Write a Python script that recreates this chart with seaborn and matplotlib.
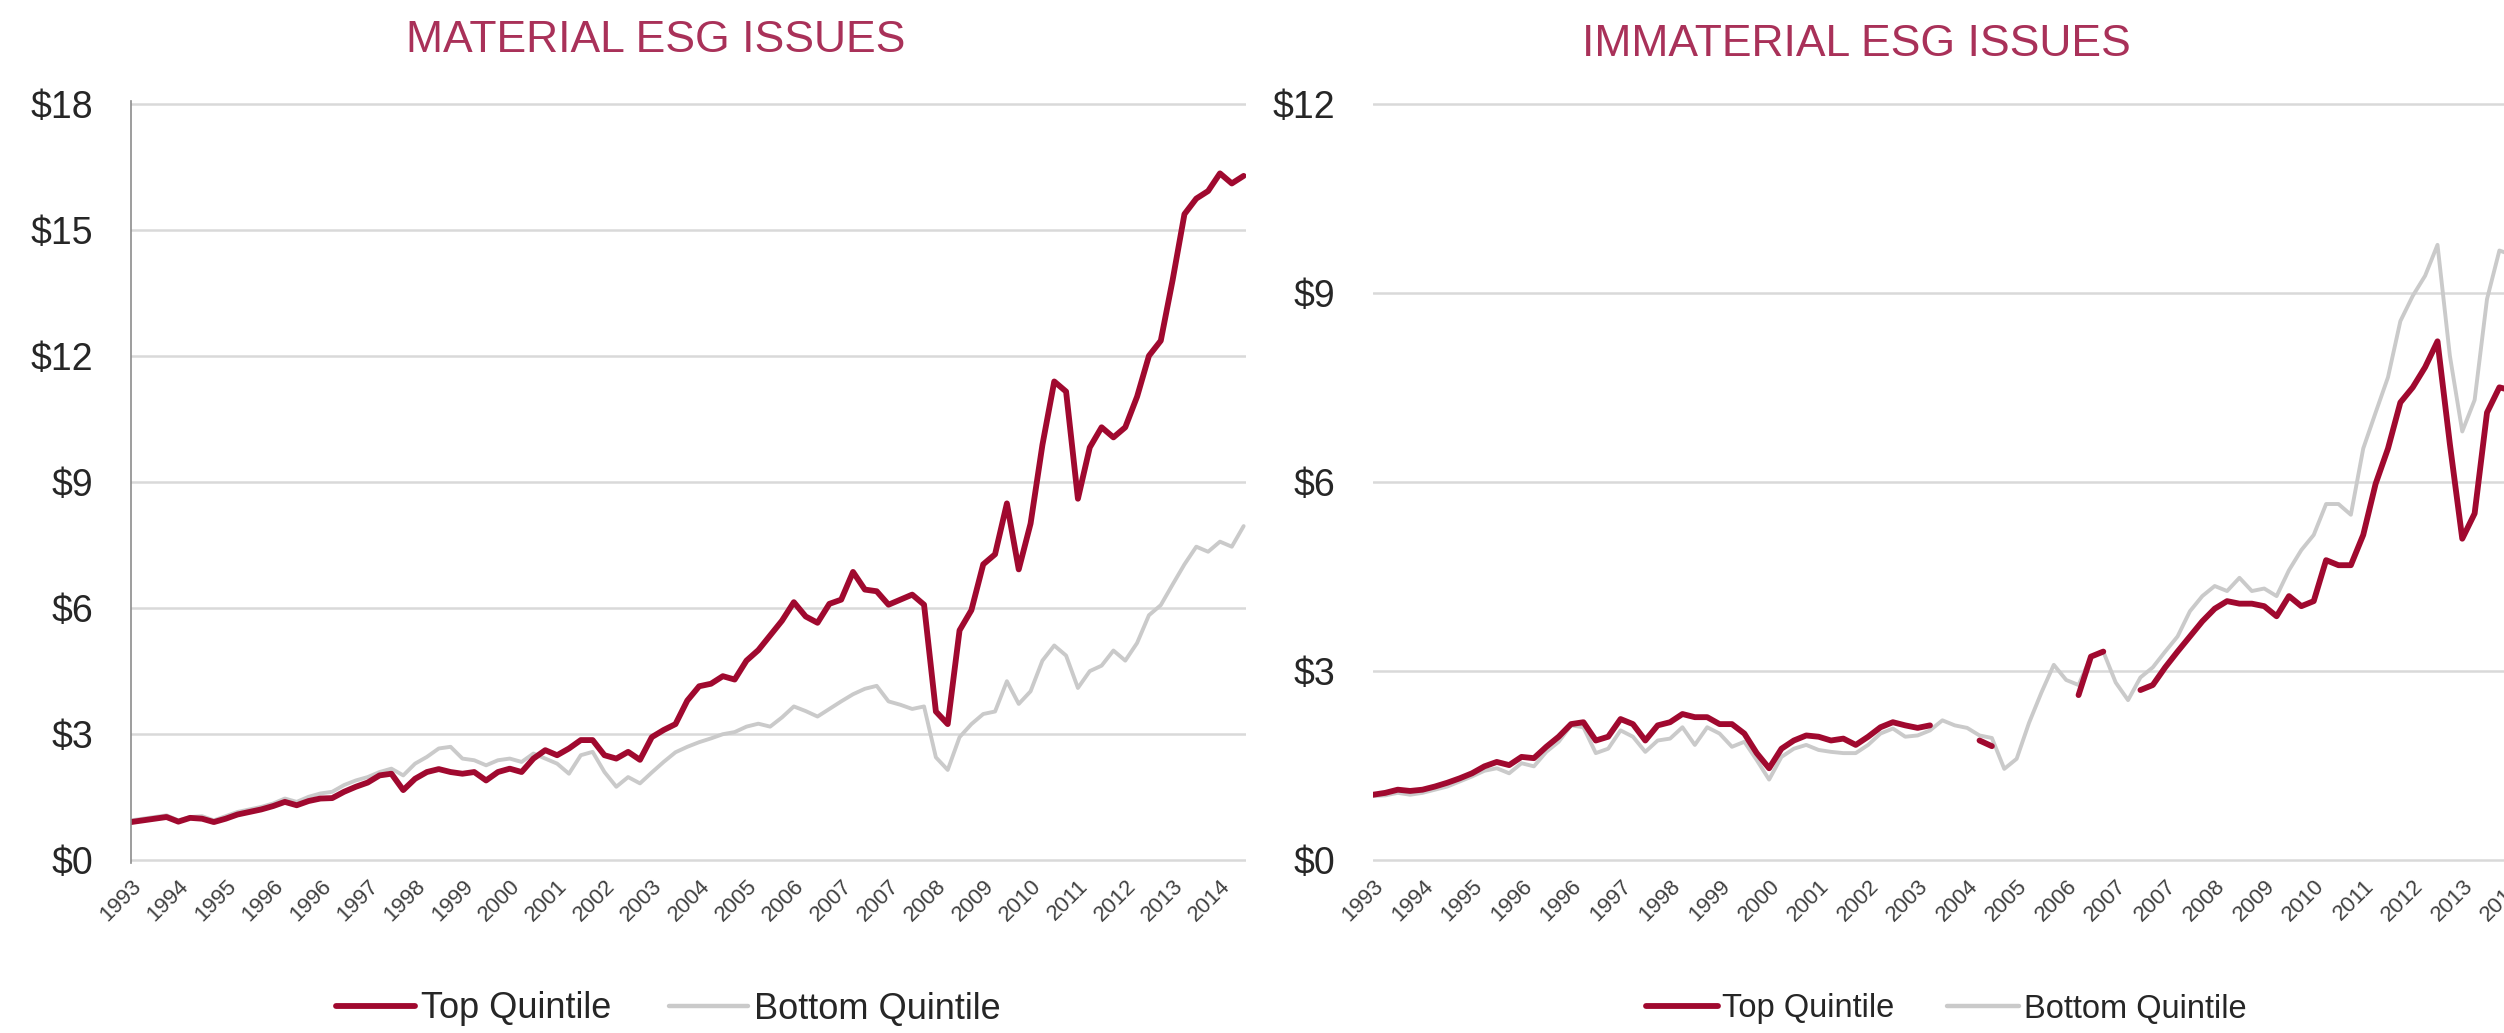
import numpy as np
import pandas as pd
import matplotlib
matplotlib.use('Agg')
import matplotlib.pyplot as plt
import seaborn as sns
from matplotlib.lines import Line2D

sns.set_style('white')
plt.rcParams['font.family'] = ['Liberation Sans', 'DejaVu Sans']

# tick labels (one label per ~11 months, as in the source chart)
year_labels = ['1993', '1994', '1995', '1996', '1996', '1997', '1998', '1999',
               '2000', '2001', '2002', '2003', '2004', '2005', '2006', '2007',
               '2007', '2008', '2009', '2010', '2011', '2012', '2013', '2014']

# growth of $1, every quarter tick
top_material = [
    0.91, 0.95, 0.99, 1.03, 0.92, 1.01, 0.99, 0.91,
    0.99, 1.09, 1.15, 1.21, 1.29, 1.39, 1.31, 1.41,
    1.47, 1.48, 1.63, 1.75, 1.85, 2.02, 2.06, 1.67,
    1.94, 2.10, 2.17, 2.10, 2.06, 2.10, 1.90, 2.10,
    2.18, 2.10, 2.42, 2.62, 2.50, 2.66, 2.86, 2.86,
    2.50, 2.42, 2.58, 2.39, 2.93, 3.10, 3.24, 3.80,
    4.14, 4.20, 4.38, 4.30, 4.75, 5.00, 5.35, 5.70,
    6.14, 5.80, 5.65, 6.10, 6.20, 6.86, 6.44, 6.40,
    6.08, 6.20, 6.32, 6.08, 3.54, 3.24, 5.47, 5.95,
    7.04, 7.28, 8.49, 6.92, 8.01, 9.88, 11.39, 11.15,
    8.60, 9.82, 10.30, 10.06, 10.30, 11.03, 12.00, 12.36,
    13.80, 15.37, 15.74, 15.92, 16.34, 16.10, 16.28]

bottom_material = [
    0.95, 0.99, 1.03, 1.07, 0.95, 1.03, 1.05, 0.95,
    1.05, 1.15, 1.21, 1.27, 1.35, 1.47, 1.39, 1.51,
    1.59, 1.63, 1.79, 1.90, 1.98, 2.10, 2.18, 2.02,
    2.30, 2.46, 2.66, 2.70, 2.42, 2.38, 2.26, 2.38,
    2.42, 2.34, 2.54, 2.42, 2.30, 2.06, 2.50, 2.58,
    2.10, 1.75, 1.98, 1.83, 2.09, 2.34, 2.57, 2.70,
    2.81, 2.90, 3.00, 3.05, 3.18, 3.25, 3.18, 3.40,
    3.66, 3.55, 3.42, 3.60, 3.78, 3.95, 4.08, 4.15,
    3.78, 3.70, 3.60, 3.66, 2.45, 2.15, 2.93, 3.24,
    3.48, 3.54, 4.26, 3.72, 4.02, 4.75, 5.11, 4.87,
    4.10, 4.50, 4.63, 4.99, 4.75, 5.17, 5.83, 6.07,
    6.56, 7.04, 7.46, 7.34, 7.58, 7.46, 7.95]

nan = np.nan
top_immaterial = [
    1.04, 1.07, 1.12, 1.10, 1.12, 1.17, 1.23, 1.30,
    1.38, 1.49, 1.56, 1.51, 1.64, 1.62, 1.80, 1.96,
    2.16, 2.19, 1.90, 1.96, 2.24, 2.16, 1.90, 2.14,
    2.19, 2.32, 2.27, 2.27, 2.16, 2.16, 2.01, 1.70,
    1.46, 1.77, 1.90, 1.98, 1.96, 1.90, 1.93, 1.83,
    1.96, 2.11, 2.19, 2.14, 2.10, 2.14, nan, nan,
    nan, 1.90, 1.81, nan, nan, nan, nan, nan,
    nan, 2.62, 3.23, 3.31, nan, nan, 2.70, 2.78,
    3.06, 3.31, 3.55, 3.79, 3.99, 4.11, 4.07, 4.07,
    4.03, 3.87, 4.19, 4.03, 4.11, 4.76, 4.68, 4.68,
    5.16, 5.97, 6.53, 7.26, 7.50, 7.82, 8.23, 6.60,
    5.10, 5.50, 7.10, 7.50, 7.45]

bottom_immaterial = [
    1.02, 1.03, 1.07, 1.04, 1.07, 1.12, 1.17, 1.25,
    1.33, 1.42, 1.46, 1.38, 1.54, 1.49, 1.72, 1.88,
    2.14, 2.11, 1.70, 1.77, 2.06, 1.96, 1.72, 1.90,
    1.93, 2.11, 1.83, 2.11, 2.01, 1.80, 1.88, 1.59,
    1.28, 1.64, 1.77, 1.83, 1.75, 1.72, 1.70, 1.70,
    1.83, 2.01, 2.09, 1.96, 1.98, 2.06, 2.22, 2.14,
    2.10, 1.98, 1.94, 1.45, 1.61, 2.18, 2.66, 3.10,
    2.86, 2.78, 3.23, 3.31, 2.82, 2.54, 2.90, 3.06,
    3.31, 3.55, 3.95, 4.19, 4.35, 4.27, 4.48, 4.27,
    4.31, 4.19, 4.60, 4.92, 5.16, 5.65, 5.65, 5.48,
    6.53, 7.10, 7.66, 8.55, 8.95, 9.27, 9.76, 8.00,
    6.80, 7.30, 8.90, 9.67, 9.60]

RED = '#A0092F'
GREY = '#CACACA'
TITLE_COL = '#A93159'
TEXT_COL = '#262626'


def to_frame(values):
    df = pd.DataFrame({'value': values})
    df['period'] = df.index * 0.25
    # split at missing values so gaps stay gaps
    df['seg'] = df['value'].isna().cumsum()
    return df.dropna()


fig = plt.figure(figsize=(25.04, 10.33), dpi=100)
ax1 = fig.add_axes([131 / 2504, 0.1646, 1115 / 2504, 0.7377])
ax2 = fig.add_axes([1373 / 2504, 0.1646, 1166 / 2504, 0.7377])

panels = [
    (ax1, top_material, bottom_material, 18, 'MATERIAL ESG ISSUES', 656, 40, 26, 668),
    (ax2, top_immaterial, bottom_immaterial, 12, 'IMMATERIAL ESG ISSUES', 1856, 45, 23.5, 1946),
]

for ax, top, bottom, ymax, title, tx, ty, leg_size, lx in panels:
    sns.lineplot(data=to_frame(bottom), x='period', y='value', units='seg',
                 estimator=None, color=GREY, lw=2.8, ax=ax)
    sns.lineplot(data=to_frame(top), x='period', y='value', units='seg',
                 estimator=None, color=RED, lw=4.2, ax=ax)

    ax.set_xlim(0, 23.55)
    pad = ymax * 0.0035
    ax.set_ylim(-pad, ymax + pad)
    yt = np.arange(0, ymax + 1, 3)
    ax.set_yticks(yt)
    ax.set_yticklabels([r'\$%d' % v for v in yt], fontsize=27, color=TEXT_COL)
    ax.set_xticks(range(len(year_labels)))
    ax.set_xticklabels(year_labels, rotation=45, ha='right',
                       rotation_mode='anchor', fontsize=16, color='#404040')
    ax.tick_params(axis='y', length=0, pad=27)
    ax.tick_params(axis='x', length=0, pad=9)
    ax.set_xlabel('')
    ax.set_ylabel('')
    ax.yaxis.grid(True, color='#D9D9D9', lw=1.8)
    ax.xaxis.grid(False)
    ax.set_axisbelow(True)
    for s in ['top', 'right', 'bottom', 'left']:
        ax.spines[s].set_visible(False)

    fig.text(tx / 2504, 1 - ty / 1033, title, ha='center', va='center',
             fontsize=32, color=TITLE_COL)

    handles = [Line2D([], [], color=RED, lw=4.2),
               Line2D([], [], color=GREY, lw=3.2)]
    leg = ax.legend(handles, ['Top Quintile', 'Bottom Quintile'], ncol=2,
                    loc='center', frameon=False, fontsize=leg_size,
                    handlelength=2.2, handletextpad=0.15, columnspacing=1.6,
                    bbox_to_anchor=(lx / 2504, 1 - 1009 / 1033),
                    bbox_transform=fig.transFigure)
    for t in leg.get_texts():
        t.set_color(TEXT_COL)

ax1.spines['left'].set_visible(True)
ax1.spines['left'].set_color('#8C8C8C')
ax1.spines['left'].set_linewidth(1.2)

fig.savefig('out.png', dpi=100)
